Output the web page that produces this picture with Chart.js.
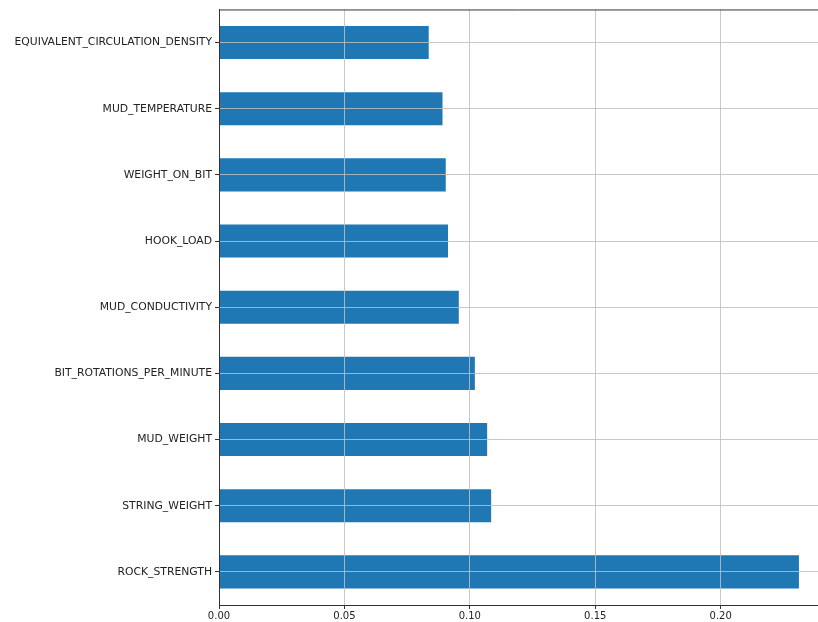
<!DOCTYPE html>
<html>
<head>
<meta charset="utf-8">
<script src="https://cdn.jsdelivr.net/npm/chart.js@4/dist/chart.umd.min.js"></script>
<style>
  body { margin: 0; background: #fff; }
</style>
</head>
<body>
<canvas id="chart" width="818" height="622"></canvas>
<script>
// feature importances, top row first
const features = [
  "EQUIVALENT_CIRCULATION_DENSITY",
  "MUD_TEMPERATURE",
  "WEIGHT_ON_BIT",
  "HOOK_LOAD",
  "MUD_CONDUCTIVITY",
  "BIT_ROTATIONS_PER_MINUTE",
  "MUD_WEIGHT",
  "STRING_WEIGHT",
  "ROCK_STRENGTH"
]
const importances = [0.0836, 0.0891, 0.0904, 0.0913, 0.0956, 0.1020, 0.1069, 0.1085, 0.2312]

const axisColor = "#333"
const gridColor = "rgba(190,190,190,0.85)"

// top spine (matplotlib frame), right one falls outside the picture
const topSpine = {
  id: "topSpine",
  afterDraw(chart) {
    const { ctx, chartArea } = chart
    ctx.save()
    ctx.strokeStyle = axisColor
    ctx.lineWidth = 1
    ctx.beginPath()
    ctx.moveTo(chartArea.left, chartArea.top + 0.5)
    ctx.lineTo(chartArea.right, chartArea.top + 0.5)
    ctx.stroke()
    ctx.restore()
  }
}

new Chart(document.getElementById("chart"), {
  type: "bar",
  data: {
    labels: features,
    datasets: [{
      data: importances,
      backgroundColor: "#1f77b4",
      borderWidth: 0,
      barPercentage: 0.5,
      categoryPercentage: 1
    }]
  },
  options: {
    indexAxis: "y",
    responsive: false,
    animation: false,
    layout: { padding: { top: 9, right: 0, left: 0, bottom: 0 } },
    plugins: { legend: { display: false }, tooltip: { enabled: false } },
    scales: {
      x: {
        min: 0,
        max: 0.2388,
        afterFit(scale) { scale.height = 17 },
        grid: { z: 1, color: gridColor, lineWidth: 1, tickLength: 4, tickColor: axisColor },
        border: { z: 2, color: axisColor, width: 1 },
        ticks: {
          stepSize: 0.05,
          includeBounds: false,
          padding: 1,
          color: "#222",
          font: { family: "DejaVu Sans", size: 10 },
          callback: v => v.toFixed(2)
        }
      },
      y: {
        afterFit(scale) { scale.width = 219 },
        grid: { z: 1, offset: false, color: gridColor, lineWidth: 1, tickLength: 4, tickColor: axisColor },
        border: { z: 2, color: axisColor, width: 1 },
        ticks: {
          padding: 3,
          color: "#222",
          font: { family: "DejaVu Sans", size: 10.8 }
        }
      }
    }
  },
  plugins: [topSpine]
})
</script>
</body>
</html>
